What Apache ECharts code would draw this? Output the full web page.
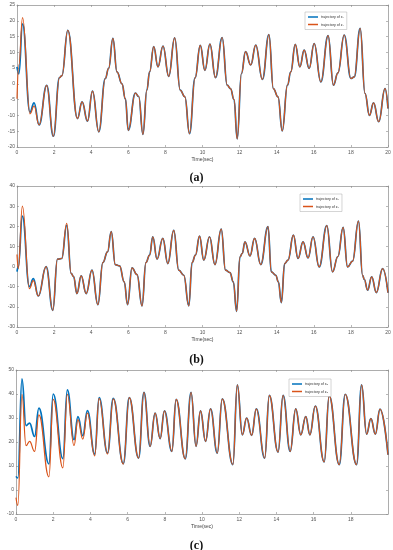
<!DOCTYPE html>
<html>
<head>
<meta charset="utf-8">
<script src="https://cdn.jsdelivr.net/npm/echarts@6/dist/echarts.min.js"></script>
<style>
html,body{margin:0;padding:0;background:#fff;}
#c{width:393px;height:550px;}
</style>
</head>
<body>
<div id="c"></div>
<script>
// ---------- Panel (a) ----------
const tA = [0,0.1,0.3,0.7,0.92,1.19,1.6,1.96,2.29,2.42,2.74,3.26,3.51,3.8,4.07,4.41,4.76,4.94,5.17,5.39,5.66,5.84,6.0,6.38,6.56,6.79,7.0,7.15,7.37,7.6,7.87,8.18,8.5,8.8,9.05,9.3,9.6,9.88,10.13,10.4,10.7,11.06,11.33,11.51,11.7,11.87,12.1,12.32,12.6,12.87,13.23,13.58,13.82,14.07,14.3,14.58,14.76,15.0,15.25,15.48,15.75,16.02,16.38,16.77,17.06,17.3,17.64,18.0,18.18,18.5,18.76,19.0,19.22,19.5,19.84,20.0];
const x1 = [5.4,3.2,19,-9,-6,-13,-0.5,-16.6,2,2.6,17,-11,-5.7,-11.8,-2.3,-15.2,1.7,4.9,14.4,3.8,0,-4.7,-14.7,-2.9,-4,-16,-2,3.8,11.8,5.4,12,2.4,14.6,-2,-4.1,-15.8,1.9,12.2,4.3,12.6,2,14.7,-0.4,-1.5,-5,-17.4,3.3,10.2,6,12.3,1.4,15.6,-1.5,-4.1,-14.9,-0.4,3.8,12.5,5.4,10.7,4.9,12.8,0.6,15.3,-0.4,3.5,15.5,1.7,2.2,17.6,-3,-10,-6,-12,-1.5,-7.8];
const z1 = [-4.7,6,21,-9.5,-7,-13,-0.5,-16.6,2,2.6,17,-11,-5.7,-11.8,-2.3,-15.2,1.7,4.9,14.4,3.8,0,-4.7,-14.7,-2.9,-4,-16,-2,3.8,11.8,5.4,12,2.4,14.6,-2,-4.1,-15.8,1.9,12.2,4.3,12.6,2,14.7,-0.4,-1.5,-5,-17.4,3.3,10.2,6,12.3,1.4,15.6,-1.5,-4.1,-14.9,-0.4,3.8,12.5,5.4,10.7,4.9,12.8,0.6,15.3,-0.4,3.5,15.5,1.7,2.2,17.6,-3,-10,-6,-12,-1.5,-7.8];

// ---------- Panel (b) ----------
const tB = [0,0.07,0.29,0.67,0.88,1.15,1.57,1.93,2.18,2.41,2.68,2.92,3.05,3.23,3.46,3.73,4.04,4.36,4.63,4.88,5.08,5.3,5.53,5.78,5.96,6.2,6.47,6.74,6.95,7.15,7.32,7.55,7.86,8.13,8.45,8.72,8.99,9.26,9.44,9.62,9.84,10.07,10.38,10.67,11.01,11.24,11.48,11.66,11.84,12.02,12.14,12.29,12.56,12.81,13.14,13.53,13.71,13.95,14.09,14.25,14.43,14.61,14.9,15.15,15.42,15.69,15.96,16.29,16.7,17.01,17.3,17.58,17.82,18.09,18.41,18.63,18.72,18.9,19.12,19.37,19.71,20.0];
const x2 = [-2.5,0,25,-10,-6,-14.6,0,-21.7,3.7,4,20.5,-3.4,-5,-13.4,-4.6,-13.4,-1.8,-18.9,2,7.3,17.3,1,0.3,-7.6,-18.9,-0.6,-4,-19.5,2,5.7,14.8,3.7,14,1.5,18,-1.8,-4.3,-19.5,2,5.7,15.1,3.2,14.8,1,18.6,-1.8,-3,-7.6,-22.2,4.8,6.5,12.3,5.3,14,1,19.8,-2.6,-4.3,-7.6,-17.9,1.5,3.2,15.6,4,12.3,4.3,14.8,-0.2,20.3,-2.6,5,19.5,-0.2,2.7,22.6,-4.3,-6.3,-11.7,-5.1,-12.9,-1,-13];
const z2 = [6,-1,30,-11,-7,-14.6,0,-21.7,3.7,4,21.4,-3.4,-5,-13.4,-4.6,-13.4,-1.8,-18.9,2,7.3,17.3,1,0.3,-7.6,-18.9,-0.6,-4,-19.5,2,5.7,14.8,3.7,14,1.5,18,-1.8,-4.3,-19.5,2,5.7,15.1,3.2,14.8,1,18.6,-1.8,-3,-7.6,-22.2,4.8,6.5,12.3,5.3,14,1,19.8,-2.6,-4.3,-7.6,-17.9,1.5,3.2,15.6,4,12.3,4.3,14.8,-0.2,20.3,-2.6,5,19.5,-0.2,2.7,22.6,-4.3,-6.3,-11.7,-5.1,-12.9,-1,-13];

// ---------- Panel (c) ----------
const tC = [0,0.1,0.32,0.54,0.73,1.0,1.23,1.77,2.0,2.52,2.76,3.12,3.33,3.59,3.84,4.23,4.47,4.92,5.23,5.77,6.09,6.59,6.88,7.21,7.48,7.75,7.98,8.38,8.61,9.1,9.41,9.68,9.92,10.19,10.46,10.82,11.09,11.66,11.9,12.17,12.4,12.67,12.92,13.37,13.62,14.09,14.36,14.74,15.04,15.31,15.58,15.8,16.09,16.57,16.84,17.38,17.7,18.31,18.58,18.85,19.08,19.32,19.57,20.0];
const x3 = [5.7,5.0,46.3,26.8,27.9,22.3,34.1,10.9,40,13.1,41.7,21,30.6,22.6,33.1,14.9,38.5,15.4,38.2,11,38.5,13.3,40.7,18.2,32,21.4,33,16.1,37.8,13,40.7,18.2,33,20.3,33.8,15.4,38,10.6,43.8,23,30,22.8,33.8,13.3,39.4,15.8,39.4,16.1,33.8,23,30.6,23,35,11.7,39.2,10.6,39.9,10.6,43.8,23.3,29.7,23.3,33.7,14.7];
const z3 = [-3.2,-6.4,39.9,18.5,20.3,16.1,31.3,5.5,37.8,9.2,39.9,18.5,29.3,21.2,32,14.2,38.2,15,38,10.8,38.5,13.3,40.7,18.2,32,21.4,33,16.1,37.8,13,40.7,18.2,33,20.3,33.8,15.4,38,10.6,43.8,23,30,22.8,33.8,13.3,39.4,15.8,39.4,16.1,33.8,23,30.6,23,35,11.7,39.2,10.6,39.9,10.6,43.8,23.3,29.7,23.3,33.7,14.7];

const namesA = ['trajectory of x\u2081','trajectory of z\u2081'];
const namesB = ['trajectory of x\u2082','trajectory of z\u2082'];
const namesC = ['trajectory of x\u2083','trajectory of z\u2083'];
const panelLabels = ['(a)','(b)','(c)'];
const yRanges = [[-20,25,5],[-30,40,10],[-10,50,10]];

const BLUE = '#0072BD', ORANGE = '#D95319';
const AX = '#8a8a8a';
const pairs = (t, v) => t.map((x, i) => [x, v[i]]);

const grids = [
  {left: 17, right: 5, top: 5, height: 142, outerBoundsMode: 'none', containLabel: false},
  {left: 17, right: 5, top: 186, height: 141, outerBoundsMode: 'none', containLabel: false},
  {left: 16, right: 5, top: 370, height: 144, outerBoundsMode: 'none', containLabel: false}
];

const xAxes = [], yAxes = [];
grids.forEach((g, i) => {
  const hideMax = i === 2;
  xAxes.push({
    type: 'value', gridIndex: i, position: 'bottom', min: 0, max: 20, interval: 2,
    name: 'Time(sec)', nameLocation: 'middle', nameGap: 10,
    nameTextStyle: {fontSize: 5, color: '#444', fontFamily: 'Liberation Sans'},
    axisLine: {show: true, onZero: false, lineStyle: {color: AX, width: 0.7}},
    axisTick: {show: true, inside: true, length: 2, lineStyle: {color: AX, width: 0.6}},
    axisLabel: {fontSize: 5, color: '#555', margin: 3, fontFamily: 'Liberation Sans', showMaxLabel: !hideMax},
    splitLine: {show: false}
  });
  xAxes.push({
    type: 'value', gridIndex: i, position: 'top', min: 0, max: 20, interval: 2,
    axisLine: {show: true, onZero: false, lineStyle: {color: AX, width: 0.7}},
    axisTick: {show: true, inside: true, length: 2, lineStyle: {color: AX, width: 0.6}},
    axisLabel: {show: false}, splitLine: {show: false}
  });
  const r = yRanges[i];
  yAxes.push({
    type: 'value', gridIndex: i, position: 'left', min: r[0], max: r[1], interval: r[2],
    name: 'States', nameLocation: 'middle', nameGap: 10,
    nameTextStyle: {fontSize: 5, color: '#444', fontFamily: 'Liberation Sans'},
    axisLine: {show: true, onZero: false, lineStyle: {color: AX, width: 0.7}},
    axisTick: {show: true, inside: true, length: 2, lineStyle: {color: AX, width: 0.6}},
    axisLabel: {fontSize: 5, color: '#555', margin: 2, fontFamily: 'Liberation Sans'},
    splitLine: {show: false}
  });
  yAxes.push({
    type: 'value', gridIndex: i, position: 'right', min: r[0], max: r[1], interval: r[2],
    axisLine: {show: true, onZero: false, lineStyle: {color: AX, width: 0.7}},
    axisTick: {show: true, inside: true, length: 2, lineStyle: {color: AX, width: 0.6}},
    axisLabel: {show: false}, splitLine: {show: false}
  });
});

function mkSeries(name, t, v, idx, color, width) {
  return {
    type: 'line', name: name, xAxisIndex: idx * 2, yAxisIndex: idx * 2,
    data: pairs(t, v), smooth: 0.45, smoothMonotone: 'x', showSymbol: false, symbol: 'none',
    lineStyle: {color: color, width: width}, itemStyle: {color: color}, animation: false
  };
}

const series = [
  mkSeries(namesA[0], tA, x1, 0, BLUE, 1.7),
  mkSeries(namesA[1], tA, z1, 0, ORANGE, 1.2),
  mkSeries(namesB[0], tB, x2, 1, BLUE, 1.7),
  mkSeries(namesB[1], tB, z2, 1, ORANGE, 1.2),
  mkSeries(namesC[0], tC, x3, 2, BLUE, 1.7),
  mkSeries(namesC[1], tC, z3, 2, ORANGE, 1.2)
];

function mkLegend(names, left, top) {
  return {
    data: names, left: left, top: top, orient: 'vertical', icon: 'rect',
    itemWidth: 10, itemHeight: 1.5, itemGap: 3.5,
    padding: [3, 3, 3, 3],
    borderColor: '#aaa', borderWidth: 0.5, backgroundColor: '#fff',
    textStyle: {fontSize: 3.6, color: '#333', fontFamily: 'Liberation Sans', padding: [0, 0, 0, -2]},
    selectedMode: false
  };
}

const option = {
  backgroundColor: '#fff',
  animation: false,
  title: panelLabels.map((t, i) => ({
    text: t, left: 'center', top: [167, 349, 535][i],
    textStyle: {fontSize: 12, fontWeight: 'bold', fontFamily: 'Liberation Serif', color: '#111'}
  })),
  legend: [mkLegend(namesA, 305, 12), mkLegend(namesB, 300, 194), mkLegend(namesC, 289, 379)],
  grid: grids,
  xAxis: xAxes,
  yAxis: yAxes,
  series: series
};

const chart = echarts.init(document.getElementById('c'), null, {renderer: 'canvas'});
chart.setOption(option);
</script>
</body>
</html>
